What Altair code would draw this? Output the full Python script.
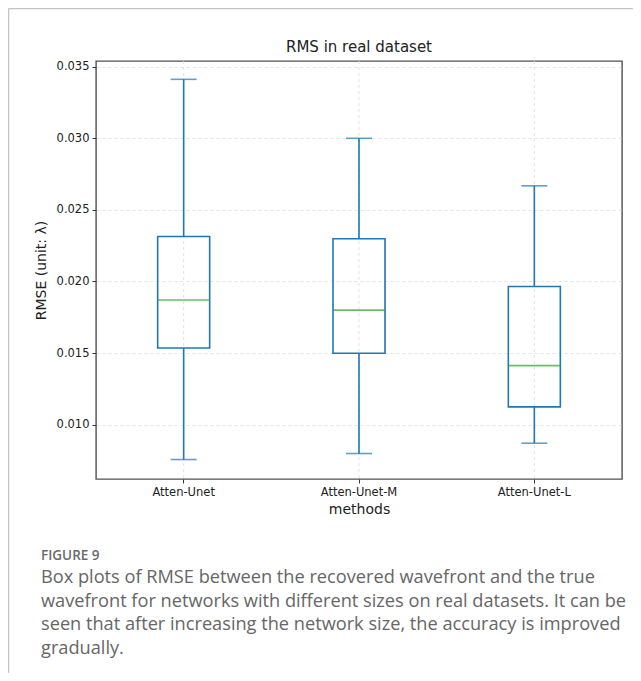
import altair as alt
import pandas as pd

methods = ["Atten-Unet", "Atten-Unet-M", "Atten-Unet-L"]
whisker_low = [0.00756, 0.00798, 0.0087]
q1 = [0.01535, 0.01498, 0.01124]
median = [0.0187, 0.0180, 0.01412]
q3 = [0.02314, 0.02298, 0.01965]
whisker_high = [0.03412, 0.0300, 0.02668]
y_ticks = [0.010, 0.015, 0.020, 0.025, 0.030, 0.035]

chart_title = "RMS in real dataset"
x_title = "methods"
y_title = "RMSE (unit: λ)"
caption_label = "FIGURE 9"
caption_lines = [
    "Box plots of RMSE between the recovered wavefront and the true",
    "wavefront for networks with different sizes on real datasets. It can be",
    "seen that after increasing the network size, the accuracy is improved",
    "gradually.",
]

df = pd.DataFrame({
    "method": methods,
    "lo": whisker_low,
    "q1": q1,
    "med": median,
    "q3": q3,
    "hi": whisker_high,
})

BLUE = "#1f77b4"
GREEN = "#2ca02c"
FONT = "DejaVu Sans"
W, H = 526, 418

xscale = alt.Scale(paddingInner=0.7034, paddingOuter=0.3517)
yscale = alt.Scale(domain=[0.0062, 0.0354], nice=False, zero=False)

x_enc = alt.X("method:N", sort=methods, scale=xscale, title=x_title,
              axis=alt.Axis(labelAngle=0, grid=False, titlePadding=5))

def yenc(field):
    return alt.Y(f"{field}:Q", scale=yscale, title=y_title,
                 axis=alt.Axis(values=y_ticks, format=".3f", grid=True,
                               titlePadding=8, zindex=0))

base = alt.Chart(df)

vgrid = base.mark_rule(color="#dcdcdc", strokeWidth=0.8, strokeDash=[3, 3]).encode(
    x=x_enc, y=alt.value(0), y2=alt.value(H))
box = base.mark_rect(fillOpacity=0, stroke=BLUE, strokeWidth=1.6).encode(
    x=x_enc, y=yenc("q1"), y2="q3:Q")
upper = base.mark_rule(color=BLUE, strokeWidth=1.6).encode(
    x=x_enc, y=yenc("q3"), y2="hi:Q")
lower = base.mark_rule(color=BLUE, strokeWidth=1.6).encode(
    x=x_enc, y=yenc("lo"), y2="q1:Q")
cap_hi = base.mark_tick(color=BLUE, size=26, thickness=1.6).encode(
    x=x_enc, y=yenc("hi"))
cap_lo = base.mark_tick(color=BLUE, size=26, thickness=1.6).encode(
    x=x_enc, y=yenc("lo"))
med = base.mark_tick(color=GREEN, size=52, thickness=1.6).encode(
    x=x_enc, y=yenc("med"))

one = alt.Chart(pd.DataFrame({"k": [0]}))
title_mark = one.mark_text(align="center", baseline="middle", fontSize=15,
                           font=FONT, color="#222222").encode(
    x=alt.value(W / 2), y=alt.value(-14), text=alt.value(chart_title))
border_left = one.mark_rule(color="#c4c4c4", strokeWidth=1.5).encode(
    x=alt.value(-87.5), y=alt.value(-52.5), y2=alt.value(620))
border_top = one.mark_rule(color="#c4c4c4", strokeWidth=1.5).encode(
    x=alt.value(-87.5), x2=alt.value(560), y=alt.value(-52.5))
fig_label = one.mark_text(align="left", baseline="alphabetic", fontSize=13.5,
                          fontWeight=600, color="#6a6a6a", font="Open Sans").encode(
    x=alt.value(-55), y=alt.value(499), text=alt.value(caption_label))
caption = one.mark_text(align="left", baseline="alphabetic", fontSize=18.2,
                        lineHeight=23.5, color="#666666", font="Open Sans").encode(
    x=alt.value(-55), y=alt.value(522), text=alt.value(caption_lines))

chart = alt.layer(vgrid, box, upper, lower, cap_hi, cap_lo, med, title_mark,
                  border_left, border_top, fig_label, caption).properties(
    width=W, height=H,
    autosize=alt.AutoSizeParams(type="none"),
    padding={"left": 88, "top": 53, "right": 11, "bottom": 194},
).configure_view(stroke="#505050", strokeWidth=1.4).configure_axis(
    labelFont=FONT, titleFont=FONT, labelFontSize=11.5, titleFontSize=14,
    labelColor="#222222", titleColor="#222222", titleFontWeight="normal",
    tickColor="#333333", tickSize=4, tickWidth=1, domain=False,
    gridColor="#dcdcdc", gridDash=[3, 3], gridWidth=0.8, labelPadding=3,
)

chart.save("out.html", embed_options={"renderer": "svg", "actions": False})
